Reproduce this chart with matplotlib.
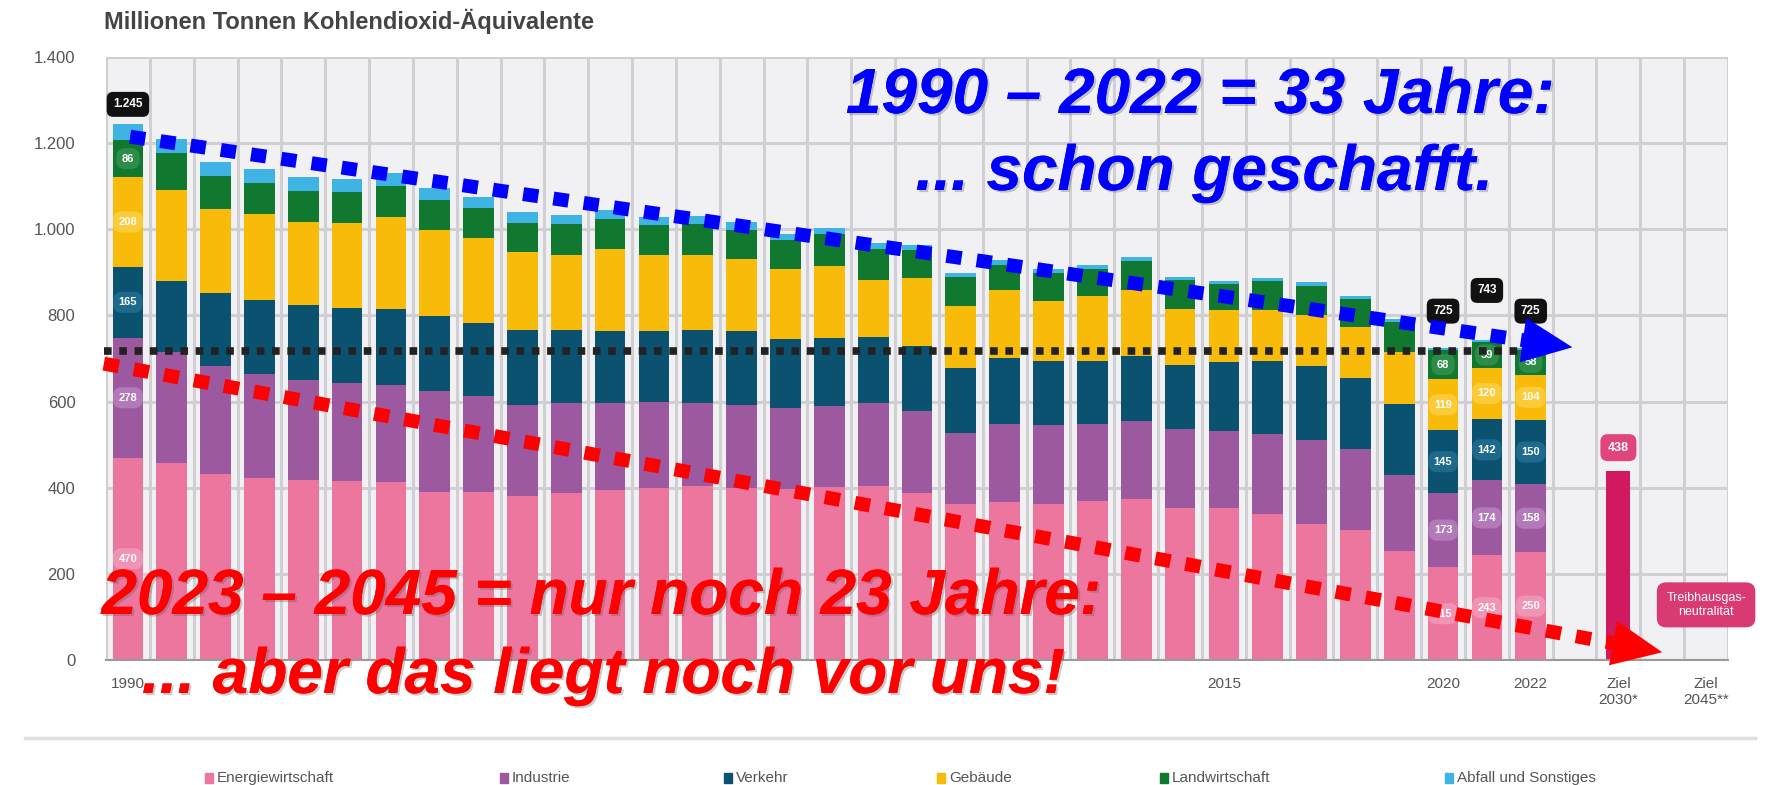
import matplotlib
matplotlib.use("Agg")
import matplotlib.pyplot as plt
import matplotlib.patheffects as pe
from matplotlib.ticker import FuncFormatter
import numpy as np

# Treibhausgas-Emissionen nach Sektoren, Mio. t CO2-Äquivalente (aus dem Bild geschätzt)
jahre = list(range(1990, 2023))
energie = [470, 458, 432, 422, 417, 415, 413, 390, 391, 380, 387, 395, 400, 403, 400, 396, 402,
           405, 387, 362, 366, 362, 370, 374, 353, 352, 338, 316, 302, 252, 215, 243, 250]
industrie = [278, 256, 250, 243, 234, 228, 226, 234, 222, 212, 209, 201, 200, 193, 191, 188, 188,
             192, 191, 166, 182, 183, 179, 182, 183, 180, 186, 194, 187, 178, 173, 174, 158]
verkehr = [165, 166, 170, 170, 174, 175, 175, 175, 170, 175, 170, 169, 163, 170, 174, 162, 158,
           153, 150, 149, 153, 149, 146, 149, 149, 161, 170, 172, 166, 165, 145, 142, 150]
gebaeude = [208, 212, 196, 200, 192, 196, 215, 200, 196, 180, 174, 190, 178, 174, 166, 161, 166,
            133, 160, 144, 157, 140, 149, 154, 129, 120, 119, 119, 119, 119, 119, 120, 104]
landwirtschaft = [86, 84, 76, 72, 72, 72, 72, 69, 71, 68, 72, 68, 68, 72, 68, 68, 75,
                  72, 64, 68, 60, 64, 63, 68, 68, 60, 67, 68, 64, 71, 68, 59, 58]
abfall = [38, 34, 33, 33, 32, 31, 30, 28, 26, 24, 22, 21, 20, 19, 17, 15, 14,
          13, 11, 10, 10, 9, 9, 9, 8, 8, 8, 8, 7, 7, 5, 5, 5]

sektoren = ["Energiewirtschaft", "Industrie", "Verkehr", "Gebäude", "Landwirtschaft", "Abfall und Sonstiges"]
farben = ["#ec769d", "#9c59a0", "#0b5170", "#f8bb0a", "#10782f", "#3fb3e3"]
pill_farben = ["#f193b5", "#b27ab8", "#1d6a8c", "#fbcb3a", "#2c8c48", "#66c4ec"]
werte = [energie, industrie, verkehr, gebaeude, landwirtschaft, abfall]

ziel_2030 = 438
ziel_labels = ["Ziel\n2030*", "Ziel\n2045**"]
ziel_pos = [34, 36]
# 1995-2010 liegen im Bild unter dem roten Text und sind nicht sichtbar
tick_jahre = [1990, 2015, 2020, 2022]
pill_jahre = [1990, 2020, 2021, 2022]
summen_offset = {1990: 45, 2020: 85, 2021: 115, 2022: 85}
niveau_2022 = 718

plt.rcParams['font.family'] = ['Liberation Sans', 'DejaVu Sans']


def de_format(v, pos=None):
    return f"{int(v):,}".replace(",", ".")


fig = plt.figure(figsize=(17.75, 7.85), dpi=100)
ax = fig.add_axes([106 / 1775, 125 / 785, 1622 / 1775, 603 / 785])
ax.set_facecolor("#f1f1f3")

x = np.arange(len(jahre))
for g in np.arange(-0.5, 37, 1.0):
    ax.axvline(g, color="#d0d0d4", lw=2.2, zorder=0)
for h in range(0, 1401, 200):
    ax.axhline(h, color="#d0d0d4", lw=2.2, zorder=0)

unten = np.zeros(len(jahre))
for name, werte_s, farbe in zip(sektoren, werte, farben):
    ax.bar(x, werte_s, bottom=unten, width=0.7, color=farbe, zorder=2, label=name)
    unten += np.array(werte_s)

# Werte-Pillen in einzelnen Jahren
for j in pill_jahre:
    i = jahre.index(j)
    basis = 0
    for k in range(5):
        v = werte[k][i]
        ax.text(i, basis + v / 2, str(v), ha="center", va="center", fontsize=8, color="white",
                fontweight="bold", zorder=4,
                bbox=dict(boxstyle="round,pad=0.5,rounding_size=0.8", fc=pill_farben[k], ec="none"))
        basis += v
    ax.text(i, unten[i] + summen_offset[j], de_format(unten[i]), ha="center", va="center",
            fontsize=8.5, color="white", fontweight="bold", zorder=4,
            bbox=dict(boxstyle="round,pad=0.55", fc="#111111", ec="none"))

# Ziele
ax.bar(ziel_pos[0], ziel_2030, width=0.55, color="#d0195f", zorder=2)
ax.text(ziel_pos[0], ziel_2030 + 55, str(ziel_2030), ha="center", va="center", fontsize=9,
        color="white", fontweight="bold", zorder=4,
        bbox=dict(boxstyle="round,pad=0.6", fc="#e0457c", ec="none"))
ax.text(ziel_pos[1], 128, "Treibhausgas-\nneutralität", ha="center", va="center", fontsize=9,
        color="white", zorder=4, clip_on=False, linespacing=1.25,
        bbox=dict(boxstyle="round,pad=0.75", fc="#d93a73", ec="none"))

ax.set_xlim(-0.5, 36.5)
ax.set_ylim(0, 1400)
ax.set_yticks(range(0, 1401, 200))
ax.yaxis.set_major_formatter(FuncFormatter(de_format))
ax.set_xticks([jahre.index(j) for j in tick_jahre] + ziel_pos)
ax.set_xticklabels([str(j) for j in tick_jahre] + ziel_labels)
ax.tick_params(axis="y", length=0, pad=22, labelsize=12, labelcolor="#555555")
ax.tick_params(axis="x", length=0, pad=12, labelsize=11, labelcolor="#555555")
for s in ["top", "right", "left"]:
    ax.spines[s].set_visible(False)
ax.spines["bottom"].set_color("#9a9a9a")
ax.spines["bottom"].set_linewidth(1.5)

fig.text(104 / 1775, 1 - 21 / 785, "Millionen Tonnen Kohlendioxid-Äquivalente", fontsize=17,
         fontweight="bold", color="#444444", va="center")

# Pfeile und Hilfslinie
ax.plot([-0.55, 32.3], [niveau_2022, niveau_2022], color="#222222", lw=5.5,
        linestyle=(0, (1, 1)), dash_capstyle="butt", zorder=5, clip_on=False)


def punkt_pfeil(start, spitze, farbe):
    sx, sy = start
    tx, ty = spitze
    t = 1 - 1.0 / (tx - sx)
    bx, by = sx + (tx - sx) * t, sy + (ty - sy) * t
    ax.plot([sx, bx], [sy, by], color=farbe, lw=10, linestyle=(0, (1.1, 1.1)),
            dash_capstyle="butt", zorder=6, clip_on=False)
    ax.annotate("", xy=(tx, ty), xytext=(bx, by), zorder=7, annotation_clip=False,
                arrowprops=dict(arrowstyle="-|>,head_length=1.0,head_width=0.45",
                                mutation_scale=36, color=farbe, lw=0, shrinkA=0, shrinkB=0))


punkt_pfeil((0.05, 1215), (32.95, 726), "#0000ff")
punkt_pfeil((-0.55, 688), (35.0, 18), "#ff0000")

schatten = [pe.withSimplePatchShadow(offset=(1.5, -1.5), shadow_rgbFace="#555555", alpha=0.3), pe.Normal()]
text_stil = dict(fontsize=46, fontweight="bold", fontstyle="italic", ha="center", va="center",
                 path_effects=schatten, zorder=10)
fig.text(1200 / 1775, 1 - 96 / 785, "1990 – 2022 = 33 Jahre:", color="#0000ff", **text_stil)
fig.text(1204 / 1775, 1 - 173 / 785, "... schon geschafft.", color="#0000ff", **text_stil)
fig.text(601 / 1775, 1 - 597 / 785, "2023 – 2045 = nur noch 23 Jahre:", color="#ff0000", **text_stil)
fig.text(603 / 1775, 1 - 676 / 785, "... aber das liegt noch vor uns!", color="#ff0000", **text_stil)

# Trennlinie und Legende
fig.add_artist(plt.Line2D([25 / 1775, 1755 / 1775], [1 - 738 / 785] * 2, color="#dedede", lw=2.5))
legend_x = [210, 505, 729, 942, 1165, 1450]
for lx, name, farbe in zip(legend_x, sektoren, farben):
    fig.patches.append(plt.Rectangle((lx / 1775 - 0.003, 1 - 783 / 785), 0.0045, 10 / 785,
                                     transform=fig.transFigure, color=farbe, figure=fig))
    fig.text(lx / 1775 + 0.004, 1 - 778 / 785, name, fontsize=11, color="#555555", va="center")

fig.savefig("out.png", dpi=100)
